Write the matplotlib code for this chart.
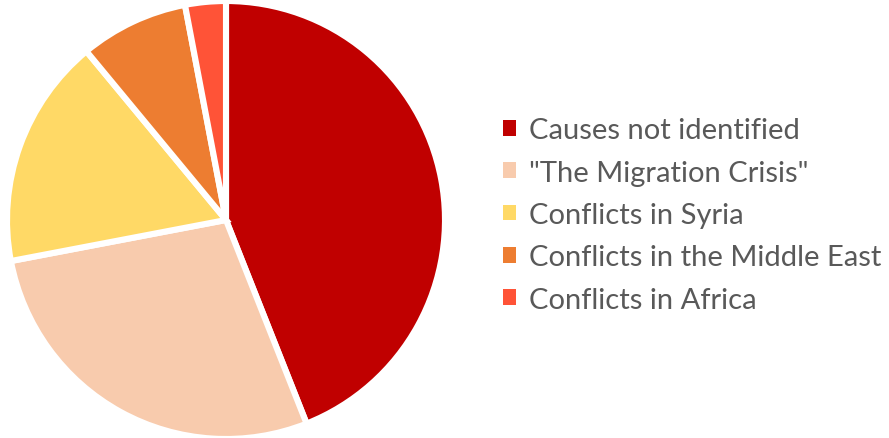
import matplotlib
matplotlib.use("Agg")
import matplotlib.pyplot as plt
from matplotlib.patches import Patch

categories = [
    "Causes not identified",
    "\"The Migration Crisis\"",
    "Conflicts in Syria",
    "Conflicts in the Middle East",
    "Conflicts in Africa",
]
shares = [44, 28, 17, 8, 3]
colors = ["#C00000", "#F8CBAD", "#FFD966", "#ED7D31", "#FF5337"]

plt.rcParams["font.family"] = ["Lato", "DejaVu Sans"]

W, H = 889, 439
fig = plt.figure(figsize=(W / 100, H / 100), dpi=100)

# pie occupies the left part of the canvas
cx, cy, r = 226, 439 - 221, 219
ax = fig.add_axes([(cx - r) / W, (cy - r) / H, 2 * r / W, 2 * r / H])
ax.pie(shares, colors=colors, startangle=90, counterclock=False,
       wedgeprops=dict(edgecolor="white", linewidth=4.4),
       radius=1.0)
ax.set_xlim(-1.0, 1.0)
ax.set_ylim(-1.0, 1.0)
ax.set_aspect("equal")
ax.axis("off")

handles = [Patch(facecolor=c, edgecolor="none") for c in colors]
leg = fig.legend(handles, categories, loc="center left",
                 bbox_to_anchor=(503 / W, 1 - 216 / H),
                 frameon=False, fontsize=21, handlelength=0.45,
                 handleheight=0.45, handletextpad=0.45, labelspacing=0.56,
                 borderaxespad=0, borderpad=0)
for t in leg.get_texts():
    t.set_color("#595959")

fig.savefig("out.png", dpi=100)
